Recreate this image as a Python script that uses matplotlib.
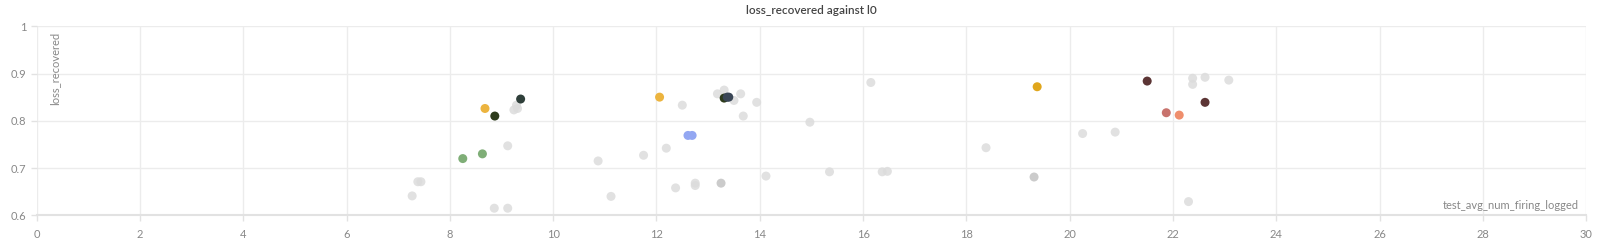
import matplotlib
matplotlib.use("Agg")
import matplotlib.pyplot as plt

# gray (background) runs
gray_x = [7.27, 7.38, 7.44, 8.86, 9.12, 9.12, 9.24, 9.31, 9.29, 10.87, 11.12, 11.75, 12.19,
          12.50, 12.37, 12.75, 12.75, 14.12, 13.18, 13.31, 13.50, 13.63, 13.94, 13.68,
          14.97, 15.35, 16.15, 16.37, 16.47, 18.38, 20.25, 20.88, 22.30, 22.38, 22.38,
          22.62, 23.08]
gray_y = [0.641, 0.671, 0.671, 0.615, 0.615, 0.747, 0.823, 0.826, 0.833, 0.715, 0.640, 0.727, 0.742,
          0.833, 0.658, 0.668, 0.663, 0.683, 0.857, 0.865, 0.843, 0.857, 0.839, 0.810,
          0.797, 0.692, 0.881, 0.692, 0.693, 0.743, 0.773, 0.776, 0.629, 0.890, 0.877,
          0.892, 0.886]
# slightly darker gray runs
dgray_x = [13.25, 19.31]
dgray_y = [0.668, 0.681]

# highlighted runs
hl_x = [8.25, 8.63, 8.68, 8.87, 9.37, 12.06, 12.61, 12.69, 13.31, 13.37, 13.40,
        19.37, 21.50, 21.87, 22.12, 22.62]
hl_y = [0.720, 0.730, 0.826, 0.810, 0.846, 0.850, 0.769, 0.769, 0.848, 0.850, 0.850,
        0.872, 0.884, 0.817, 0.812, 0.839]
hl_c = ["#7fae77", "#7fae77", "#ecb43f", "#2d3b1c", "#2f3f3a", "#ecb43f", "#93a7f2", "#93a7f2",
        "#2d3b1c", "#3a4656", "#3a4656", "#e0a61c", "#5c3535", "#c8736d", "#ef8e6c", "#5c3535"]

x_ticks = list(range(0, 31, 2))
y_ticks = [0.6, 0.7, 0.8, 0.9, 1.0]
y_tick_labels = ["0.6", "0.7", "0.8", "0.9", "1"]

plt.rcParams['font.family'] = ['Lato', 'DejaVu Sans']

fig = plt.figure(figsize=(16, 2.43), dpi=100)
ax = fig.add_axes([0.0229, 0.114, 0.9685, 0.778])

ax.scatter(gray_x, gray_y, s=42, color="#dcdcdc", alpha=0.85, edgecolors="none", zorder=3)
ax.scatter(dgray_x, dgray_y, s=42, color="#c6c6c6", alpha=0.9, edgecolors="none", zorder=3)
ax.scatter(hl_x, hl_y, s=42, c=hl_c, edgecolors="none", zorder=4)

ax.set_xlim(0, 30)
ax.set_ylim(0.6, 1.0)
ax.set_xticks(x_ticks)
ax.set_xticklabels([str(t) for t in x_ticks])
ax.set_yticks(y_ticks)
ax.set_yticklabels(y_tick_labels)
ax.grid(True, color="#ececec", linewidth=1)
ax.set_axisbelow(True)
for side in ["top", "right", "left"]:
    ax.spines[side].set_visible(False)
ax.spines["bottom"].set_color("#e2e2e2")
ax.spines["bottom"].set_linewidth(1.5)
ax.tick_params(axis="both", colors="#e2e2e2", labelcolor="#888888", labelsize=8,
               length=4, width=1)
ax.tick_params(axis="x", pad=6)

ax.set_title("loss_recovered against l0", fontsize=8.5, color="#444444", pad=9,
             fontweight="semibold")
ax.text(0.008, 0.97, "loss_recovered", transform=ax.transAxes, rotation=90,
        ha="left", va="top", fontsize=8, color="#888888")
ax.text(0.995, 0.025, "test_avg_num_firing_logged", transform=ax.transAxes,
        ha="right", va="bottom", fontsize=8, color="#888888")

fig.savefig("out.png", dpi=100, facecolor="white")
